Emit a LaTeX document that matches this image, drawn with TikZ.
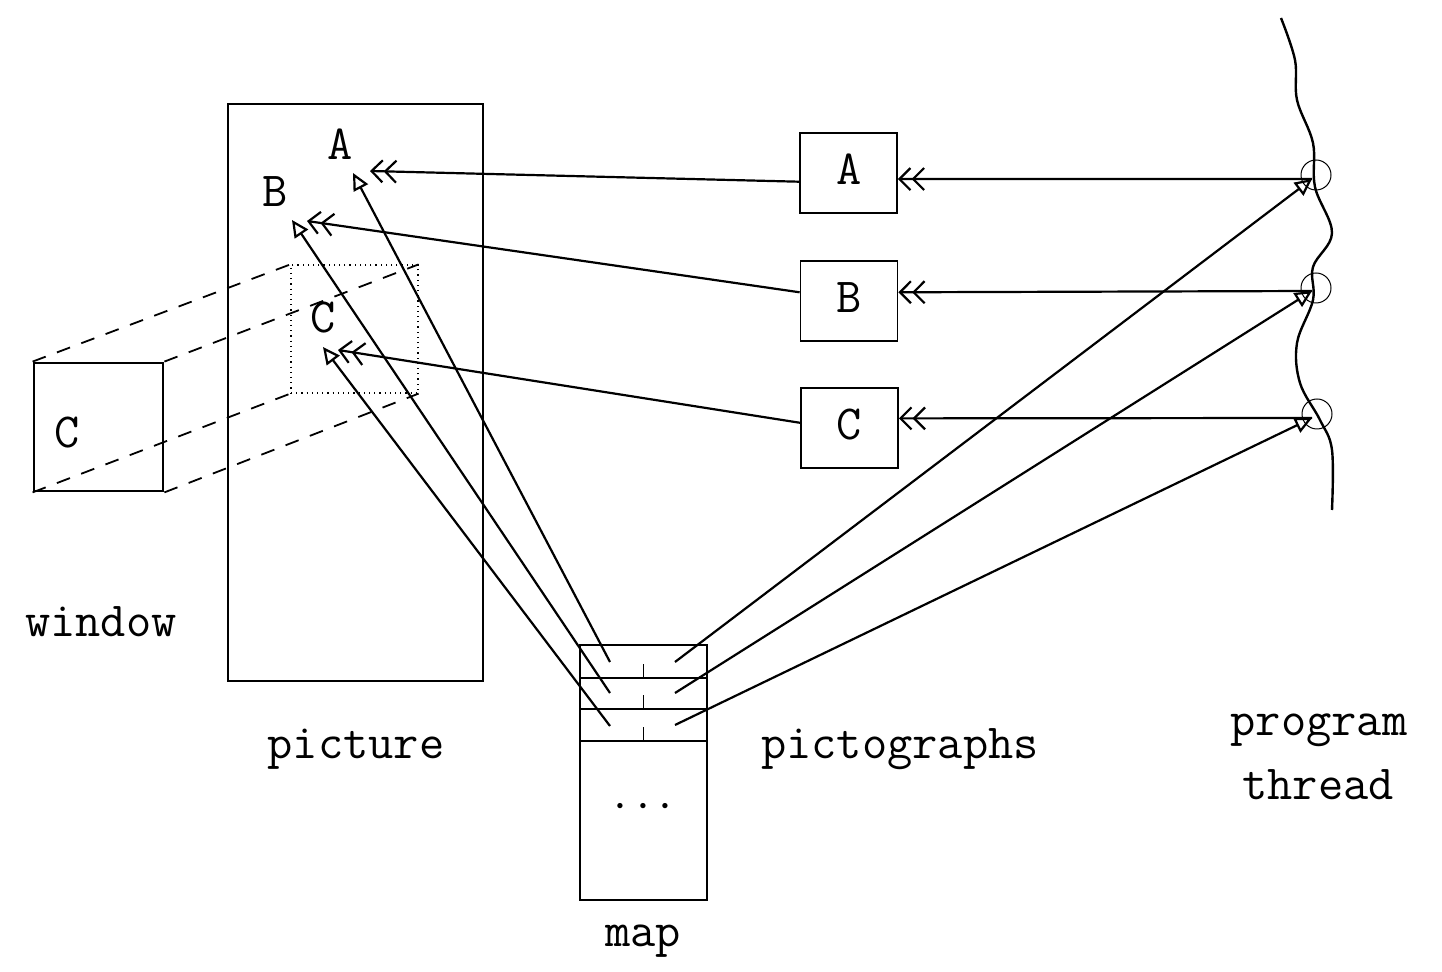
\documentclass[tikz,border=0pt]{standalone}
\usetikzlibrary{arrows.meta}
\begin{document}
\begin{tikzpicture}[x=0.5pt,y=-0.5pt,
  lbl/.style={font=\ttfamily\fontsize{24.5}{28}\selectfont, inner sep=0pt, anchor=base},
  frame/.style={draw, line width=1.4pt, inner sep=0pt},
  pbox/.style={draw, line width=0.9pt, minimum width=48.5pt, minimum height=40pt, inner sep=0pt},
  maprow/.style={draw, line width=0.9pt, minimum width=63.5pt, inner sep=0pt},
  conn/.style={line width=1.1pt},
  dbl/.style={conn, -{Straight Barb[length=5.5pt,width=11pt,line width=1.1pt] Straight Barb[length=5.5pt,width=11pt,line width=1.1pt]}},
  opn/.style={conn, -{Triangle[open,length=8.5pt,width=8pt,line width=1.1pt]}},
  proj/.style={draw, line width=0.9pt, dash pattern=on 7pt off 6pt},
  ring/.style={draw, circle, line width=0.5pt, minimum size=15pt, inner sep=0pt}]
\useasboundingbox (0,0) rectangle (1442,972);

% picture
\node[frame, minimum width=127.5pt, minimum height=288.5pt] (pic) at (355.5,392.5) {};
\node[draw, dotted, line width=0.6pt, minimum width=63.5pt, minimum height=64pt, inner sep=0pt] (zoomr) at (354.5,329) {};
\node[lbl] (lA) at (340,160) {A};
\node[lbl] (lB) at (275,207) {B};
\node[lbl] (lC) at (323,333) {C};
\coordinate (tA) at (353,173);
\coordinate (tB) at (292,220);
\coordinate (tC) at (323,347);
\coordinate (dA) at (370,171);
\coordinate (dB) at (307,221);
\coordinate (dC) at (338,350);
\node[lbl] (picl) at (356,759) {picture};

% window
\node[frame, minimum width=64.5pt, minimum height=64pt] (win) at (98.5,427) {};
\node[lbl] (wC) at (67.5,448) {C};
\node[lbl] (winl) at (101,637) {window};
\draw[proj] (win.north west) -- (zoomr.north west);
\draw[proj] (win.north east) -- (zoomr.north east);
\draw[proj] (win.south west) -- (zoomr.south west);
\draw[proj] (win.south east) -- (zoomr.south east);

% pictographs
\node[pbox] (gA) at (848.5,173) {};
\node[pbox] (gB) at (849,301) {};
\node[pbox] (gC) at (849.5,428) {};
\node[lbl] (gAl) at (849,185) {A};
\node[lbl] (gBl) at (849,313) {B};
\node[lbl] (gCl) at (849,440) {C};
\node[lbl] (pgl) at (900,759) {pictographs};

% map
\node[maprow, minimum height=16.5pt] (m1) at (643.5,661.5) {};
\node[maprow, minimum height=15.5pt] (m2) at (643.5,693.5) {};
\node[maprow, minimum height=16pt] (m3) at (643.5,725) {};
\node[maprow, minimum height=79.5pt] (m4) at (643.5,820.5) {};
\draw[line width=0.8pt] (m1.south) -- ++(0,-15);
\draw[line width=0.8pt] (m2.south) -- ++(0,-15);
\draw[line width=0.8pt] (m3.south) -- ++(0,-15);
\node[inner sep=0pt, font=\fontsize{24}{28}\selectfont] (dots) at (643,807) {$\cdots$};
\node[lbl] (mapl) at (643,947) {map};
\coordinate (m1L) at (610,662);
\coordinate (m2L) at (610,693);
\coordinate (m3L) at (610,726);
\coordinate (m1R) at (675,662);
\coordinate (m2R) at (675,693);
\coordinate (m3R) at (675,725);

% program thread
\draw[line width=1.2pt] plot[smooth, tension=0.6] coordinates {(1281,18) (1295,60) (1297,100) (1313,143) (1315,187) (1332,233) (1313,267) (1313,300) (1297,343) (1300,383) (1320,420) (1332,450) (1332,510)};
\node[ring] (c1) at (1316,175) {};
\node[ring] (c2) at (1316,288) {};
\node[ring] (c3) at (1317,414) {};
\coordinate (k1) at (1312,179);
\coordinate (k2) at (1312,291);
\coordinate (k3) at (1312,418);
\node[lbl] (prl) at (1319,736) {program};
\node[lbl] (thl) at (1318,800) {thread};

% connectors: pictographs -> picture
\draw[dbl] (gA.190) -- (dA);
\draw[dbl] (gB.170) -- (dB);
\draw[dbl] (gC.174) -- (dC);
% thread -> pictographs
\draw[dbl] (k1) -- (gA.-7);
\draw[dbl] (k2) -- (gB.10);
\draw[dbl] (k3) -- (gC.11);
% map -> picture
\draw[opn] (m1L) -- (tA);
\draw[opn] (m2L) -- (tB);
\draw[opn] (m3L) -- (tC);
% map -> thread
\draw[opn] (m1R) -- (k1);
\draw[opn] (m2R) -- (k2);
\draw[opn] (m3R) -- (k3);
\end{tikzpicture}
\end{document}
